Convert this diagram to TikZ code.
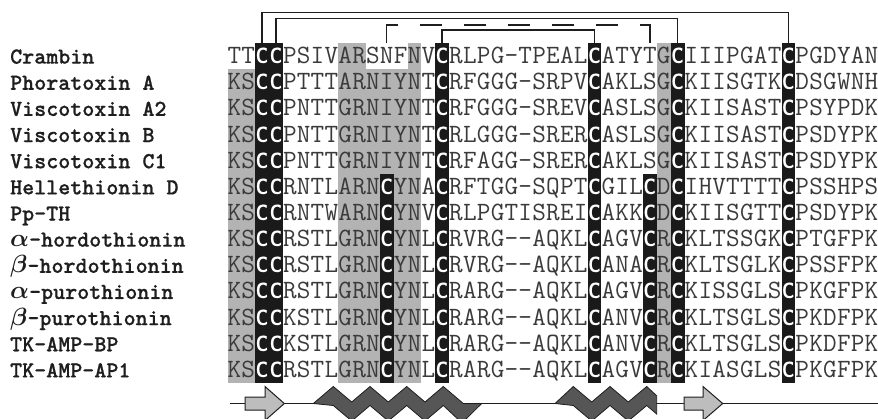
\documentclass[tikz,border=0pt]{standalone}
\usepackage{fontspec}
\usepackage{tikz}
\newfontfamily\labelfont{lmmonolt10-bold.otf}[FakeBold=0.7]
\definecolor{ShadeGray}{HTML}{B3B3B3}
\definecolor{CysBlack}{HTML}{1A1A1A}
\definecolor{ResGray}{HTML}{3A3A3A}
\definecolor{InkBlack}{HTML}{1E1E1E}
\definecolor{HelixGray}{HTML}{565656}
\definecolor{StrandGray}{HTML}{BDBDBD}
\newcommand{\cysC}{\scalebox{0.8}[1]{C}}

% one residue per column, lower-case c = boxed cysteine
\newcount\rescol
\newcommand{\seqrow}[2]{\def\rowy{#1}\global\rescol=0 \expandafter\readres#2\relax}
\def\readres#1{%
  \ifx#1\relax\else
    \global\advance\rescol by 1
    \if c#1\node[cys] (r\rowno c\the\rescol) at ({colx(\the\rescol)},\rowy) {\cysC};%
    \else\node[res] (r\rowno c\the\rescol) at ({colx(\the\rescol)},\rowy) {#1};\fi
    \expandafter\readres
  \fi}

\begin{document}
\begin{tikzpicture}[x=1pt,y=-1pt,
  declare function={colx(\c)=227.5+(\c-0.5)*13.85; coll(\c)=227.5+(\c-1)*13.85; rowt(\r)=43.3+(\r-1)*26.15;},
  res/.style={anchor=base,inner sep=0pt,text=ResGray,font=\fontsize{26.4}{30}\selectfont\ttfamily},
  cys/.style={anchor=base,inner sep=0pt,text=white,font=\fontsize{22}{26}\selectfont\sffamily\bfseries},
  seqname/.style={anchor=base west,inner sep=0pt,text=InkBlack,font=\fontsize{22.9}{26}\selectfont\labelfont\boldmath},
  bond/.style={draw=InkBlack,line width=1.4pt},
  helix/.style={fill=HelixGray,draw=InkBlack,line width=0.8pt,line join=miter},
  strand/.style={fill=StrandGray,draw=InkBlack,line width=1pt}]
  \clip (0,0) rectangle (878,418);

  % shading
  \foreach \ca/\cb/\ra/\rb/\fc in {1/2/2/13/ShadeGray, 9/10/1/13/ShadeGray, 11/13/2/13/ShadeGray,
      14/14/1/13/ShadeGray, 32/32/1/13/ShadeGray, 3/4/1/13/CysBlack, 12/12/6/13/CysBlack,
      16/16/1/13/CysBlack, 27/27/1/13/CysBlack, 31/31/6/13/CysBlack, 33/33/1/13/CysBlack,
      41/41/1/13/CysBlack}
    \fill[\fc] ({coll(\ca)},{rowt(\ra)}) rectangle ({coll(\cb+1)},{rowt(\rb+1)});

  % sequences
  \foreach \lab/\seq [count=\r] in {
      Crambin/TTccPSIVARSNFNVcRLPG-TPEALcATYTGcIIIPGATcPGDYAN,
      Phoratoxin A/KSccPTTTARNIYNTcRFGGG-SRPVcAKLSGcKIISGTKcDSGWNH,
      Viscotoxin A2/KSccPNTTGRNIYNTcRFGGG-SREVcASLSGcKIISASTcPSYPDK,
      Viscotoxin B/KSccPNTTGRNIYNTcRLGGG-SRERcASLSGcKIISASTcPSDYPK,
      Viscotoxin C1/KSccPNTTGRNIYNTcRFAGG-SRERcAKLSGcKIISASTcPSDYPK,
      Hellethionin D/KSccRNTLARNcYNAcRFTGG-SQPTcGILcDcIHVTTTTcPSSHPS,
      Pp-TH/KSccRNTWARNcYNVcRLPGTISREIcAKKcDcKIISGTTcPSDYPK,
      $\alpha$-hordothionin/KSccRSTLGRNcYNLcRVRG--AQKLcAGVcRcKLTSSGKcPTGFPK,
      $\beta$-hordothionin/KSccRSTLGRNcYNLcRVRG--AQKLcANAcRcKLTSGLKcPSSFPK,
      $\alpha$-purothionin/KSccRSTLGRNcYNLcRARG--AQKLcAGVcRcKISSGLScPKGFPK,
      $\beta$-purothionin/KSccKSTLGRNcYNLcRARG--AQKLcANVcRcKLTSGLScPKDFPK,
      TK-AMP-BP/KSccKSTLGRNcYNLcRARG--AQKLcANVcRcKLTSGLScPKDFPK,
      TK-AMP-AP1/KSccRSTLGRNcYNLcRARG--AQKLcAGVcRcKIASGLScPKGFPK}{
    \pgfmathsetmacro\basey{63.6+(\r-1)*26.15}
    \edef\rowno{\r}
    \node[seqname] (name\r) at (10,\basey) {\lab};
    \seqrow{\basey}{\seq}
  }

  % disulfide bridges
  \foreach \c in {3,4,12,16,27,31,33,41}
    \coordinate (C\c) at ({colx(\c)},43.3);
  \draw[bond] (C3) -- ++(0,-30.6) -| (C41);
  \draw[bond] (C4) -- ++(0,-25) -| (C33);
  \draw[bond,dash pattern=on 29.5pt off 22.5pt on 21.5pt off 22.5pt on 21.5pt off 22.5pt on 21.5pt off 22.5pt on 21.5pt off 22.5pt on 21.5pt off 22.5pt on 60pt off 1pt]
    (C12) -- ++(0,-18.3) -| (C31);
  \draw[bond] (C16) -- ++(0,-13.3) -| (C27);

  % secondary structure
  \coordinate (ssL) at (230,403.5);
  \coordinate (ssR) at (880,403.5);
  \draw[line width=1.4pt,InkBlack] (ssL) -- (ssR);
  \filldraw[strand] (245,397) -- (265,397) -- (265,386.5) -- (284.3,403.5) -- (265,420.5) -- (265,410) -- (245,410) -- cycle;
  \filldraw[strand] (684,397) -- (703,397) -- (703,386.5) -- (722.7,403.5) -- (703,420.5) -- (703,410) -- (684,410) -- cycle;
  \filldraw[helix] (313.3,403.5) -- (333.3,386.5) -- (351.7,402) -- (370,386.5) -- (388.3,402) -- (406.7,386.5)
    -- (425,402) -- (443.3,386.5) -- (463.3,403.5) -- (481.7,403.5) -- (462,423) -- (443.3,405.5) -- (425,421)
    -- (406.7,405.5) -- (388.3,421) -- (370,405.5) -- (351.7,421) -- (333.3,405.5) -- cycle;
  \filldraw[helix] (555,403.5) -- (573.3,386.5) -- (591.7,402) -- (610,386.5) -- (628.3,402) -- (646.7,386.5)
    -- (656.7,395.8) -- (656.7,414) -- (646.7,405.5) -- (628.3,421) -- (610,405.5) -- (591.7,421) -- (573.3,405.5) -- cycle;
\end{tikzpicture}
\end{document}
